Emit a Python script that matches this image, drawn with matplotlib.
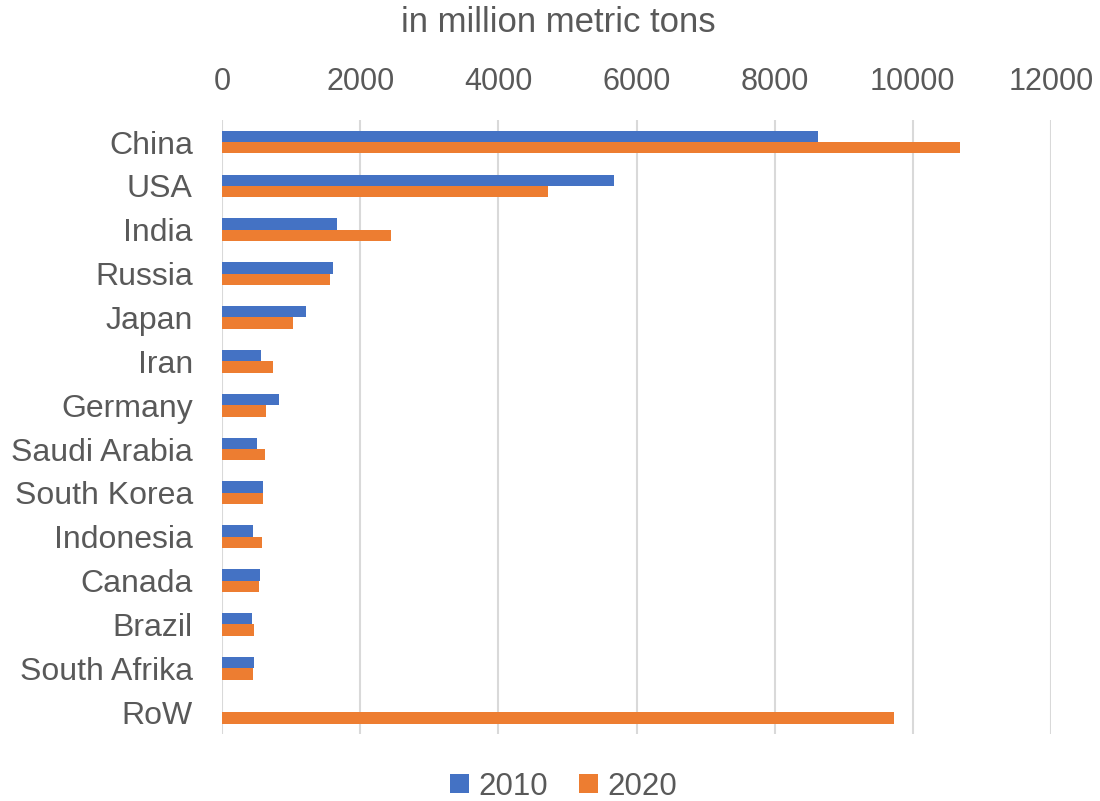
import matplotlib.pyplot as plt
import numpy as np

plt.rcParams['font.family'] = ['Liberation Sans', 'DejaVu Sans']

# values (million metric tons)
countries = ["China", "USA", "India", "Russia", "Japan", "Iran", "Germany",
             "Saudi Arabia", "South Korea", "Indonesia", "Canada", "Brazil",
             "South Afrika", "RoW"]
values_2010 = [8620, 5680, 1670, 1610, 1210, 560, 825, 505, 590, 445, 550, 435, 460, 0]
values_2020 = [10680, 4715, 2440, 1570, 1025, 740, 640, 625, 595, 585, 530, 460, 445, 9720]
x_ticks = [0, 2000, 4000, 6000, 8000, 10000, 12000]

text_color = "#595959"
blue = "#4472C4"
orange = "#ED7D31"

fig = plt.figure(figsize=(11, 8.01), dpi=100)
ax = fig.add_axes([0.2018, 0.0836, 0.7537, 0.7664])

y = np.arange(len(countries))
h = 0.26
ax.barh(y - h / 2, values_2010, height=h, color=blue, label="2010", zorder=3)
ax.barh(y + h / 2, values_2020, height=h, color=orange, label="2020", zorder=3)

ax.set_xlim(0, 12000)
ax.set_ylim(len(countries) - 0.5, -0.5)
ax.set_yticks(y)
ax.set_yticklabels(countries, fontsize=23, color=text_color)
ax.set_xticks(x_ticks)
ax.set_xticklabels([str(t) for t in x_ticks], fontsize=22, color=text_color)
ax.xaxis.tick_top()
ax.tick_params(axis='x', length=0, pad=17)
ax.tick_params(axis='y', length=0, pad=21)
ax.grid(True, axis='x', color="#D9D9D9", linewidth=1.5, zorder=0)
for s in ax.spines.values():
    s.set_visible(False)

fig.text(0.508, 0.972, "in million metric tons", fontsize=25, color=text_color,
         ha='center', va='center')

leg = fig.legend(loc='center', bbox_to_anchor=(0.512, 0.018), ncol=2, frameon=False,
                 fontsize=22.5, handlelength=0.6, handleheight=0.6, handletextpad=0.3,
                 columnspacing=1.0)
for t in leg.get_texts():
    t.set_color(text_color)

fig.savefig("out.png", dpi=100)
